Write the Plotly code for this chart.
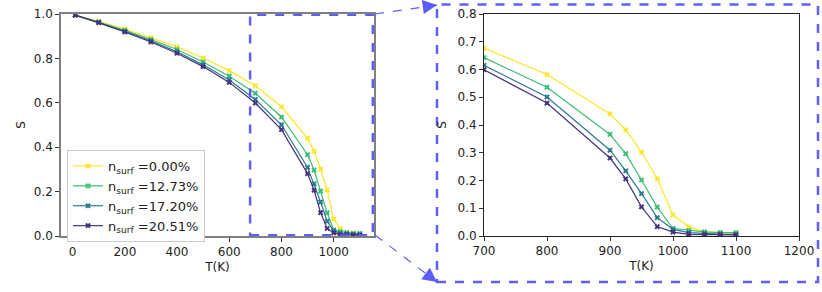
import plotly.graph_objects as go

T = [10, 100, 200, 300, 400, 500, 600, 700, 800, 900, 925, 950, 975, 1000, 1025, 1050, 1075, 1100]
S_000 = [0.995, 0.967, 0.932, 0.893, 0.852, 0.802, 0.745, 0.677, 0.582, 0.440, 0.382, 0.302, 0.207, 0.076, 0.033, 0.015, 0.012, 0.010]
S_1273 = [0.995, 0.964, 0.926, 0.885, 0.840, 0.784, 0.720, 0.643, 0.536, 0.366, 0.297, 0.202, 0.104, 0.027, 0.020, 0.015, 0.012, 0.012]
S_1720 = [0.995, 0.962, 0.922, 0.879, 0.830, 0.771, 0.703, 0.615, 0.501, 0.309, 0.235, 0.153, 0.066, 0.024, 0.012, 0.009, 0.007, 0.006]
S_2051 = [0.995, 0.961, 0.919, 0.874, 0.823, 0.763, 0.692, 0.599, 0.479, 0.281, 0.206, 0.105, 0.034, 0.014, 0.006, 0.005, 0.005, 0.004]
labels = ["0.00%", "12.73%", "17.20%", "20.51%"]
series = [S_000, S_1273, S_1720, S_2051]
colors = ["#fde725", "#3dbc74", "#2a788e", "#46327e"]

W, H = 822, 292
def px(x): return x / W
def py(y): return (H - y) / H

fig = go.Figure()
for s, lab, c in zip(series, labels, colors):
    for xa, ya, show in (("x", "y", True), ("x2", "y2", False)):
        fig.add_trace(go.Scatter(
            x=T, y=s, xaxis=xa, yaxis=ya, mode="lines+markers",
            name="n<sub>surf</sub> =" + lab, showlegend=show,
            line=dict(color=c, width=1.2),
            marker=dict(symbol="x", size=5, color=c, line=dict(width=0)),
        ))

font = dict(family="DejaVu Sans", size=12, color="#222")
axis_common = dict(ticks="outside", ticklen=4, tickcolor="#333", showgrid=False, automargin=False,
                   zeroline=False, showline=True, mirror=True, tickfont=font)

blue = "rgba(85,85,255,0.95)"
shapes = [
    dict(type="rect", xref="x", yref="y", x0=680, x1=1150, y0=0.003, y1=0.997,
         line=dict(color=blue, width=2.5, dash="dash")),
    dict(type="rect", xref="paper", yref="paper", x0=px(437), x1=px(818), y0=py(282), y1=py(4.5),
         line=dict(color=blue, width=2.5, dash="dash")),
    dict(type="line", xref="paper", yref="paper", x0=px(375), y0=py(14), x1=px(437), y1=py(5),
         line=dict(color=blue, width=1.2, dash="dash")),
    dict(type="line", xref="paper", yref="paper", x0=px(375), y0=py(235), x1=px(437), y1=py(282),
         line=dict(color=blue, width=1.2, dash="dash")),
]

annotations = [
    dict(xref="paper", yref="paper", x=px(437), y=py(5), ax=-14, ay=2, showarrow=True,
         arrowhead=2, arrowsize=2.2, arrowwidth=1.3, arrowcolor=blue, text=""),
    dict(xref="paper", yref="paper", x=px(437), y=py(282), ax=-12, ay=-9, showarrow=True,
         arrowhead=2, arrowsize=2.2, arrowwidth=1.3, arrowcolor=blue, text=""),
]

fig.update_layout(
    width=W, height=H, margin=dict(l=0, r=0, t=0, b=0, autoexpand=False),
    paper_bgcolor="white", plot_bgcolor="white", font=font,
    xaxis=dict(domain=[px(61), px(374)], range=[-44.5, 1154.5], tickvals=[0, 200, 400, 600, 800, 1000],
               linecolor="#808080", linewidth=1.5, title=dict(text="T(K)", font=font, standoff=4),
               anchor="y", **axis_common),
    yaxis=dict(domain=[py(236), py(14)], range=[0, 1.0], tickvals=[0, 0.2, 0.4, 0.6, 0.8, 1.0],
               tickformat=".1f", linecolor="#808080", linewidth=1.5,
               title=dict(text="S", font=font, standoff=6), anchor="x", **axis_common),
    xaxis2=dict(domain=[px(484), px(799)], range=[700, 1200], tickvals=[700, 800, 900, 1000, 1100, 1200],
                linecolor="#222", linewidth=1, title=dict(text="T(K)", font=font, standoff=4),
                anchor="y2", **axis_common),
    yaxis2=dict(domain=[py(236), py(14)], range=[0, 0.8], tickvals=[0, 0.1, 0.2, 0.3, 0.4, 0.5, 0.6, 0.7, 0.8],
                tickformat=".1f", linecolor="#222", linewidth=1,
                title=dict(text="S", font=font, standoff=8), anchor="x2", **axis_common),
    legend=dict(x=px(67), y=py(150), xanchor="left", yanchor="top", bgcolor="white",
                bordercolor="#cccccc", borderwidth=1, font=dict(family="DejaVu Sans", size=13, color="#222"),
                tracegroupgap=0, itemwidth=30),
    shapes=shapes, annotations=annotations,
)

fig.write_html("out.html", config={"displayModeBar": False},
               post_script="document.body.style.margin='0px';document.body.style.overflow='hidden';")
